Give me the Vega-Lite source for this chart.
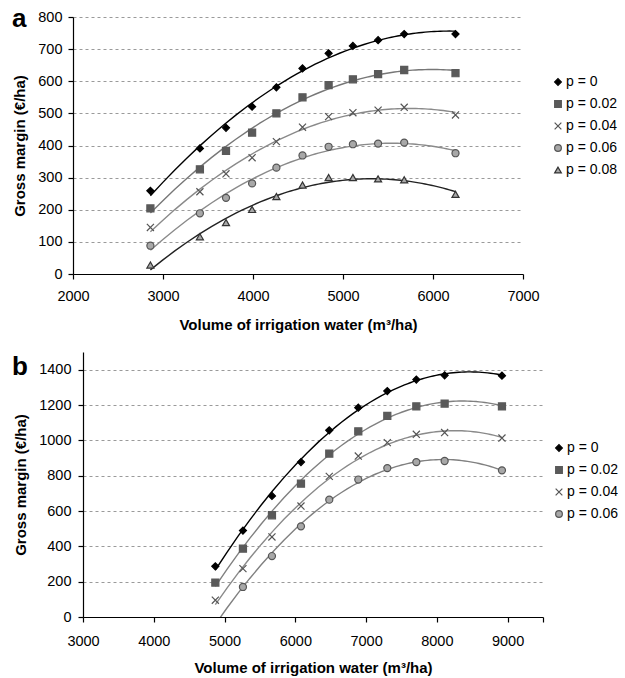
{
  "$schema": "https://vega.github.io/schema/vega-lite/v6.json",
  "background": "#ffffff",
  "padding": {"left": 12, "top": 6, "right": 0, "bottom": 0},
  "columns": 1,
  "spacing": 19,
  "resolve": {
    "scale": {"color": "independent", "shape": "independent", "fill": "independent", "stroke": "independent"},
    "legend": {"color": "independent", "shape": "independent", "fill": "independent", "stroke": "independent"}
  },
  "datasets": {
    "a": [
      {"series": "p = 0", "trend": "p = 0", "vol": 2860, "gm": 259}, {"series": "p = 0", "trend": "p = 0", "vol": 3410, "gm": 391}, {"series": "p = 0", "trend": "p = 0", "vol": 3700, "gm": 455}, {"series": "p = 0", "trend": "p = 0", "vol": 3990, "gm": 521}, {"series": "p = 0", "trend": "p = 0", "vol": 4260, "gm": 581}, {"series": "p = 0", "trend": "p = 0", "vol": 4550, "gm": 640}, {"series": "p = 0", "trend": "p = 0", "vol": 4840, "gm": 687}, {"series": "p = 0", "trend": "p = 0", "vol": 5110, "gm": 710}, {"series": "p = 0", "trend": "p = 0", "vol": 5390, "gm": 728}, {"series": "p = 0", "trend": "p = 0", "vol": 5680, "gm": 747}, {"series": "p = 0", "trend": "p = 0", "vol": 6250, "gm": 747},
      {"series": "p = 0.02", "trend": "p = 0.02", "vol": 2860, "gm": 204}, {"series": "p = 0.02", "trend": "p = 0.02", "vol": 3410, "gm": 326}, {"series": "p = 0.02", "trend": "p = 0.02", "vol": 3700, "gm": 383}, {"series": "p = 0.02", "trend": "p = 0.02", "vol": 3990, "gm": 440}, {"series": "p = 0.02", "trend": "p = 0.02", "vol": 4260, "gm": 500}, {"series": "p = 0.02", "trend": "p = 0.02", "vol": 4550, "gm": 550}, {"series": "p = 0.02", "trend": "p = 0.02", "vol": 4840, "gm": 588}, {"series": "p = 0.02", "trend": "p = 0.02", "vol": 5110, "gm": 606}, {"series": "p = 0.02", "trend": "p = 0.02", "vol": 5390, "gm": 622}, {"series": "p = 0.02", "trend": "p = 0.02", "vol": 5680, "gm": 635}, {"series": "p = 0.02", "trend": "p = 0.02", "vol": 6250, "gm": 625},
      {"series": "p = 0.04", "trend": "p = 0.04", "vol": 2860, "gm": 145}, {"series": "p = 0.04", "trend": "p = 0.04", "vol": 3410, "gm": 256}, {"series": "p = 0.04", "trend": "p = 0.04", "vol": 3700, "gm": 312}, {"series": "p = 0.04", "trend": "p = 0.04", "vol": 3990, "gm": 362}, {"series": "p = 0.04", "trend": "p = 0.04", "vol": 4260, "gm": 412}, {"series": "p = 0.04", "trend": "p = 0.04", "vol": 4550, "gm": 457}, {"series": "p = 0.04", "trend": "p = 0.04", "vol": 4840, "gm": 490}, {"series": "p = 0.04", "trend": "p = 0.04", "vol": 5110, "gm": 502}, {"series": "p = 0.04", "trend": "p = 0.04", "vol": 5390, "gm": 510}, {"series": "p = 0.04", "trend": "p = 0.04", "vol": 5680, "gm": 519}, {"series": "p = 0.04", "trend": "p = 0.04", "vol": 6250, "gm": 495},
      {"series": "p = 0.06", "trend": "p = 0.06", "vol": 2860, "gm": 88}, {"series": "p = 0.06", "trend": "p = 0.06", "vol": 3410, "gm": 189}, {"series": "p = 0.06", "trend": "p = 0.06", "vol": 3700, "gm": 237}, {"series": "p = 0.06", "trend": "p = 0.06", "vol": 3990, "gm": 282}, {"series": "p = 0.06", "trend": "p = 0.06", "vol": 4260, "gm": 331}, {"series": "p = 0.06", "trend": "p = 0.06", "vol": 4550, "gm": 369}, {"series": "p = 0.06", "trend": "p = 0.06", "vol": 4840, "gm": 396}, {"series": "p = 0.06", "trend": "p = 0.06", "vol": 5110, "gm": 404}, {"series": "p = 0.06", "trend": "p = 0.06", "vol": 5390, "gm": 406}, {"series": "p = 0.06", "trend": "p = 0.06", "vol": 5680, "gm": 409}, {"series": "p = 0.06", "trend": "p = 0.06", "vol": 6250, "gm": 376},
      {"series": "p = 0.08", "trend": "p = 0.08", "vol": 2860, "gm": 28}, {"series": "p = 0.08", "trend": "p = 0.08", "vol": 3410, "gm": 116}, {"series": "p = 0.08", "trend": "p = 0.08", "vol": 3700, "gm": 160}, {"series": "p = 0.08", "trend": "p = 0.08", "vol": 3990, "gm": 201}, {"series": "p = 0.08", "trend": "p = 0.08", "vol": 4260, "gm": 241}, {"series": "p = 0.08", "trend": "p = 0.08", "vol": 4550, "gm": 277}, {"series": "p = 0.08", "trend": "p = 0.08", "vol": 4840, "gm": 300}, {"series": "p = 0.08", "trend": "p = 0.08", "vol": 5110, "gm": 300}, {"series": "p = 0.08", "trend": "p = 0.08", "vol": 5390, "gm": 296}, {"series": "p = 0.08", "trend": "p = 0.08", "vol": 5680, "gm": 293}, {"series": "p = 0.08", "trend": "p = 0.08", "vol": 6250, "gm": 248}
    ],
    "b": [
      {"series": "p = 0", "trend": "p = 0", "vol": 4870, "gm": 287}, {"series": "p = 0", "trend": "p = 0", "vol": 5260, "gm": 489}, {"series": "p = 0", "trend": "p = 0", "vol": 5670, "gm": 685}, {"series": "p = 0", "trend": "p = 0", "vol": 6080, "gm": 877}, {"series": "p = 0", "trend": "p = 0", "vol": 6480, "gm": 1057}, {"series": "p = 0", "trend": "p = 0", "vol": 6890, "gm": 1185}, {"series": "p = 0", "trend": "p = 0", "vol": 7300, "gm": 1279}, {"series": "p = 0", "trend": "p = 0", "vol": 7710, "gm": 1344}, {"series": "p = 0", "trend": "p = 0", "vol": 8110, "gm": 1368}, {"series": "p = 0", "trend": "p = 0", "vol": 8920, "gm": 1366},
      {"series": "p = 0.02", "trend": "p = 0.02", "vol": 4870, "gm": 195}, {"series": "p = 0.02", "trend": "p = 0.02", "vol": 5260, "gm": 387}, {"series": "p = 0.02", "trend": "p = 0.02", "vol": 5670, "gm": 576}, {"series": "p = 0.02", "trend": "p = 0.02", "vol": 6080, "gm": 755}, {"series": "p = 0.02", "trend": "p = 0.02", "vol": 6480, "gm": 925}, {"series": "p = 0.02", "trend": "p = 0.02", "vol": 6890, "gm": 1051}, {"series": "p = 0.02", "trend": "p = 0.02", "vol": 7300, "gm": 1138}, {"series": "p = 0.02", "trend": "p = 0.02", "vol": 7710, "gm": 1192}, {"series": "p = 0.02", "trend": "p = 0.02", "vol": 8110, "gm": 1208}, {"series": "p = 0.02", "trend": "p = 0.02", "vol": 8920, "gm": 1192},
      {"series": "p = 0.04", "trend": "p = 0.04", "vol": 4870, "gm": 95}, {"series": "p = 0.04", "trend": "p = 0.04", "vol": 5260, "gm": 274}, {"series": "p = 0.04", "trend": "p = 0.04", "vol": 5670, "gm": 453}, {"series": "p = 0.04", "trend": "p = 0.04", "vol": 6080, "gm": 628}, {"series": "p = 0.04", "trend": "p = 0.04", "vol": 6480, "gm": 796}, {"series": "p = 0.04", "trend": "p = 0.04", "vol": 6890, "gm": 911}, {"series": "p = 0.04", "trend": "p = 0.04", "vol": 7300, "gm": 987}, {"series": "p = 0.04", "trend": "p = 0.04", "vol": 7710, "gm": 1034}, {"series": "p = 0.04", "trend": "p = 0.04", "vol": 8110, "gm": 1044}, {"series": "p = 0.04", "trend": "p = 0.04", "vol": 8920, "gm": 1013},
      {"series": "p = 0.06", "trend": "p = 0.06", "vol": 4870, "gm": -30}, {"series": "p = 0.06", "trend": "p = 0.06", "vol": 5260, "gm": 170}, {"series": "p = 0.06", "trend": "p = 0.06", "vol": 5670, "gm": 345}, {"series": "p = 0.06", "trend": "p = 0.06", "vol": 6080, "gm": 513}, {"series": "p = 0.06", "trend": "p = 0.06", "vol": 6480, "gm": 664}, {"series": "p = 0.06", "trend": "p = 0.06", "vol": 6890, "gm": 778}, {"series": "p = 0.06", "trend": "p = 0.06", "vol": 7300, "gm": 843}, {"series": "p = 0.06", "trend": "p = 0.06", "vol": 7710, "gm": 877}, {"series": "p = 0.06", "trend": "p = 0.06", "vol": 8110, "gm": 883}, {"series": "p = 0.06", "trend": "p = 0.06", "vol": 8920, "gm": 830}
    ]
  },
  "config": {
    "view": {"stroke": null},
    "font": "Liberation Sans",
    "axis": {
      "labelFont": "Liberation Sans", "labelFontSize": 14.5, "labelColor": "#000",
      "titleFont": "Liberation Sans", "titleFontSize": 15, "titleFontWeight": "bold", "titleColor": "#000",
      "domainColor": "#000", "domainWidth": 1.2, "tickColor": "#000", "tickWidth": 1.2, "tickSize": 5,
      "labelFlush": false, "labelOverlap": false
    },
    "axisY": {"grid": true, "gridDash": [3, 3], "gridColor": "#9a9a9a", "gridWidth": 1, "labelPadding": 6, "titlePadding": 10},
    "axisX": {"grid": false},
    "legend": {"labelFont": "Liberation Sans", "labelFontSize": 14, "labelColor": "#000", "symbolSize": 45, "rowPadding": 8, "labelOffset": 1, "symbolStrokeWidth": 1.2}
  },
  "concat": [
    {
      "width": 450,
      "height": 257,
      "title": {"text": "a", "anchor": "start", "frame": "group", "fontSize": 26, "fontWeight": "bold", "font": "Liberation Sans", "color": "#000", "baseline": "alphabetic", "dx": -71, "dy": 17, "offset": -27},
      "data": {"name": "a"},
      "layer": [
        {
          "transform": [{"regression": "gm", "on": "vol", "groupby": ["trend"], "method": "poly", "order": 2}],
          "mark": {"type": "line", "strokeWidth": 1.4, "clip": true},
          "encoding": {
            "x": {"field": "vol", "type": "quantitative",
              "scale": {"domain": [2000, 7000], "range": [-10, 440], "nice": false, "zero": false},
              "axis": {"values": [2000, 3000, 4000, 5000, 6000, 7000], "format": "d", "labelPadding": 10, "titlePadding": 15, "title": "Volume of irrigation water (m³/ha)"}},
            "y": {"field": "gm", "type": "quantitative",
              "scale": {"domain": [0, 800], "nice": false},
              "axis": {"values": [0, 100, 200, 300, 400, 500, 600, 700, 800], "format": "d", "offset": 10, "title": "Gross margin (€/ha)"}},
            "color": {"field": "trend", "type": "nominal", "legend": null,
              "scale": {"range": ["#000000", "#777777", "#8a8a8a", "#8a8a8a", "#222222"]}}
          }
        },
        {
          "mark": {"type": "point", "filled": false, "size": 50, "strokeWidth": 1.2, "opacity": 1, "clip": true},
          "encoding": {
            "x": {"field": "vol", "type": "quantitative",
              "scale": {"domain": [2000, 7000], "range": [-10, 440], "nice": false, "zero": false},
              "axis": {"values": [2000, 3000, 4000, 5000, 6000, 7000], "format": "d", "labelPadding": 10, "titlePadding": 15, "title": "Volume of irrigation water (m³/ha)"}},
            "y": {"field": "gm", "type": "quantitative",
              "scale": {"domain": [0, 800], "nice": false},
              "axis": {"values": [0, 100, 200, 300, 400, 500, 600, 700, 800], "format": "d", "offset": 10, "title": "Gross margin (€/ha)"}},
            "shape": {"field": "series", "type": "nominal",
              "scale": {"domain": ["p = 0", "p = 0.02", "p = 0.04", "p = 0.06", "p = 0.08"], "range": ["diamond", "square", "M-1,-1L1,1M-1,1L1,-1", "circle", "triangle-up"]},
              "legend": {"orient": "none", "legendX": 468, "legendY": 58, "title": null}},
            "fill": {"field": "series", "type": "nominal",
              "scale": {"domain": ["p = 0", "p = 0.02", "p = 0.04", "p = 0.06", "p = 0.08"], "range": ["#000000", "#5a5a5a", "transparent", "#a8a8a8", "#a8a8a8"]},
              "legend": {"orient": "none", "legendX": 468, "legendY": 58, "title": null}},
            "stroke": {"field": "series", "type": "nominal",
              "scale": {"domain": ["p = 0", "p = 0.02", "p = 0.04", "p = 0.06", "p = 0.08"], "range": ["#000000", "#5a5a5a", "#555555", "#555555", "#333333"]},
              "legend": {"orient": "none", "legendX": 468, "legendY": 58, "title": null}}
          }
        }
      ]
    },
    {
      "width": 460,
      "height": 265,
      "title": {"text": "b", "anchor": "start", "frame": "group", "fontSize": 26, "fontWeight": "bold", "font": "Liberation Sans", "color": "#000", "baseline": "alphabetic", "dx": -71, "dy": 21, "offset": -28},
      "data": {"name": "b"},
      "layer": [
        {
          "transform": [{"regression": "gm", "on": "vol", "groupby": ["trend"], "method": "poly", "order": 2}],
          "mark": {"type": "line", "strokeWidth": 1.4, "clip": true},
          "encoding": {
            "x": {"field": "vol", "type": "quantitative",
              "scale": {"domain": [3000, 9500], "nice": false, "zero": false},
              "axis": {"values": [3000, 4000, 5000, 6000, 7000, 8000, 9000, 9500], "format": "d", "labelExpr": "datum.value == 9500 ? '' : datum.label", "labelPadding": 12, "titlePadding": 13, "title": "Volume of irrigation water (m³/ha)"}},
            "y": {"field": "gm", "type": "quantitative",
              "scale": {"domain": [0, 1500], "nice": false},
              "axis": {"values": [0, 200, 400, 600, 800, 1000, 1200, 1400], "format": "d", "labelPadding": 7, "title": "Gross margin (€/ha)"}},
            "color": {"field": "trend", "type": "nominal", "legend": null,
              "scale": {"range": ["#000000", "#808080", "#8a8a8a", "#808080"]}}
          }
        },
        {
          "mark": {"type": "point", "filled": false, "size": 50, "strokeWidth": 1.2, "opacity": 1, "clip": true},
          "encoding": {
            "x": {"field": "vol", "type": "quantitative",
              "scale": {"domain": [3000, 9500], "nice": false, "zero": false},
              "axis": {"values": [3000, 4000, 5000, 6000, 7000, 8000, 9000, 9500], "format": "d", "labelExpr": "datum.value == 9500 ? '' : datum.label", "labelPadding": 12, "titlePadding": 13, "title": "Volume of irrigation water (m³/ha)"}},
            "y": {"field": "gm", "type": "quantitative",
              "scale": {"domain": [0, 1500], "nice": false},
              "axis": {"values": [0, 200, 400, 600, 800, 1000, 1200, 1400], "format": "d", "labelPadding": 7, "title": "Gross margin (€/ha)"}},
            "shape": {"field": "series", "type": "nominal",
              "scale": {"domain": ["p = 0", "p = 0.02", "p = 0.04", "p = 0.06"], "range": ["diamond", "square", "M-1,-1L1,1M-1,1L1,-1", "circle"]},
              "legend": {"orient": "none", "legendX": 469, "legendY": 89, "title": null}},
            "fill": {"field": "series", "type": "nominal",
              "scale": {"domain": ["p = 0", "p = 0.02", "p = 0.04", "p = 0.06"], "range": ["#000000", "#5a5a5a", "transparent", "#a8a8a8"]},
              "legend": {"orient": "none", "legendX": 469, "legendY": 89, "title": null}},
            "stroke": {"field": "series", "type": "nominal",
              "scale": {"domain": ["p = 0", "p = 0.02", "p = 0.04", "p = 0.06"], "range": ["#000000", "#5a5a5a", "#555555", "#555555"]},
              "legend": {"orient": "none", "legendX": 469, "legendY": 89, "title": null}}
          }
        }
      ]
    }
  ]
}
